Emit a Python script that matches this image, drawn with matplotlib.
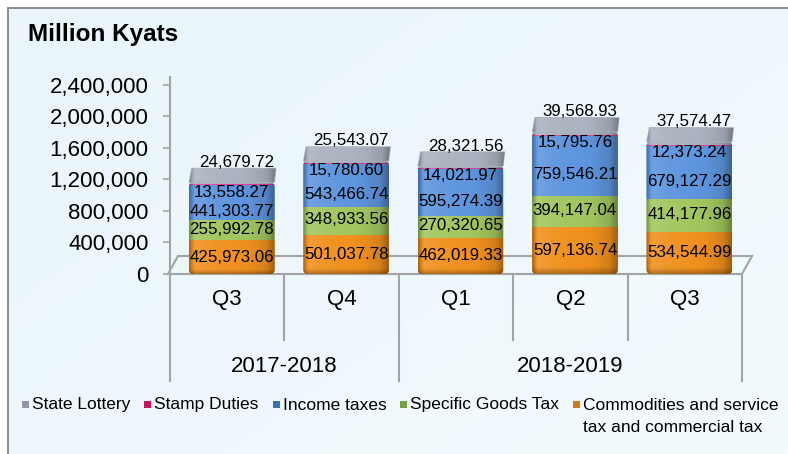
import numpy as np
import matplotlib
matplotlib.use("Agg")
import matplotlib.pyplot as plt
import matplotlib.transforms as mtransforms
from matplotlib.patches import Rectangle, Polygon, FancyBboxPatch
from matplotlib.ticker import FuncFormatter

# ---- data -------------------------------------------------------------
quarters = ["Q3", "Q4", "Q1", "Q2", "Q3"]
fiscal_years = ["2017-2018", "2018-2019"]
year_spans = [(0, 1), (2, 4)]          # first/last quarter index of each fiscal year

commodities = [425973.06, 501037.78, 462019.33, 597136.74, 534544.99]
specific_goods = [255992.78, 348933.56, 270320.65, 394147.04, 414177.96]
income_taxes = [441303.77, 543466.74, 595274.39, 759546.21, 679127.29]
stamp_duties = [13558.27, 15780.60, 14021.97, 15795.76, 12373.24]
state_lottery = [24679.72, 25543.07, 28321.56, 39568.93, 37574.47]

legend_labels = ["State Lottery", "Stamp Duties", "Income taxes",
                 "Specific Goods Tax", "Commodities and service\ntax and commercial tax"]

y_ticks = [0, 400000, 800000, 1200000, 1600000, 2000000, 2400000]
y_top = 2500000

# ---- styling ----------------------------------------------------------
W, H, DPI = 788, 454, 100
plt.rcParams["font.family"] = ["Liberation Sans", "DejaVu Sans"]
GRID = "#a3a3a3"

face = {"com": "#f0901e", "spe": "#a2c65e", "inc": "#5e95de",
        "stm": "#e2409e", "lot": "#a9b1bf"}
icon = {"lot": "#8e98aa", "stm": "#c8145e", "inc": "#3a6cb8",
        "spe": "#76a040", "com": "#d07818"}

fig = plt.figure(figsize=(W / DPI, H / DPI), dpi=DPI)
fig.patch.set_facecolor("white")

# background panel (pixel coordinates)
bg = fig.add_axes([0, 0, 1, 1], zorder=0)
bg.set_xlim(0, W)
bg.set_ylim(H, 0)
bg.axis("off")
gx, gy = np.meshgrid(np.linspace(0, 1, 200), np.linspace(0, 1, 120))
g = np.clip(0.55 * gx + 0.45 * gy, 0, 1)
c0 = np.array([233, 245, 250]) / 255
c1 = np.array([243, 251, 254]) / 255
grad = c0[None, None, :] * (1 - g[..., None]) + c1[None, None, :] * g[..., None]
bg.imshow(grad, extent=(8, W, H, 8), aspect="auto", interpolation="bilinear", zorder=0)
bg.plot([8, 8, W], [H, 8, 8], color="#8c8c8c", lw=1.4, zorder=1, solid_joinstyle="miter")

bg.text(28, 41, "Million Kyats", fontsize=17.5, fontweight="bold", ha="left",
        va="baseline", color="black")

# ---- main axes --------------------------------------------------------
ax_l, ax_r, ax_b, ax_t = 170, 742, 274, 77
ax = fig.add_axes([ax_l / W, 1 - ax_b / H, (ax_r - ax_l) / W, (ax_b - ax_t) / H], zorder=2)
ax.patch.set_visible(False)
n = len(quarters)
ax.set_xlim(-0.5, n - 0.5)
ax.set_ylim(0, y_top)
ax.set_autoscale_on(False)
for s in ["top", "right", "bottom"]:
    ax.spines[s].set_visible(False)
ax.spines["left"].set_color(GRID)
ax.spines["left"].set_linewidth(1.5)
ax.set_xticks([])
ax.set_yticks(y_ticks)
ax.yaxis.set_major_formatter(FuncFormatter(lambda v, p: f"{v:,.0f}"))
ax.tick_params(axis="y", direction="out", length=5, width=1.2, color=GRID,
               pad=10.5, labelsize=16)

xa = mtransforms.blended_transform_factory(ax.transData, ax.transAxes)
ax_h_px = ax_b - ax_t
ax_w_px = ax_r - ax_l
y_per_px = y_top / ax_h_px
x_per_px = n / ax_w_px
aspect = y_per_px / x_per_px

# floor in oblique projection (data coordinates, depth expressed in pixels)
depth_dx, depth_dy = 10 * x_per_px, 18 * y_per_px
fl, fr = -0.5 - 2 * x_per_px, n - 0.5
floor = Polygon([(fl, 0), (fr, 0), (fr + depth_dx, depth_dy), (fl + depth_dx, depth_dy)],
                closed=True, fill=False, edgecolor=GRID, lw=1.5, clip_on=False, zorder=1)
ax.add_patch(floor)

# category separators below the floor
bottom_long = -(381 - ax_b) / ax_h_px
bottom_short = -(340 - ax_b) / ax_h_px
group_edges = {year_spans[0][0] - 0.5} | {e + 0.5 for _, e in year_spans}
for b in np.arange(-0.5, n, 1.0):
    yb = bottom_long if b in group_edges else bottom_short
    ax.plot([b, b], [0, yb], transform=xa, color=GRID, lw=1.5, clip_on=False, zorder=1)

for i, q in enumerate(quarters):
    ax.text(i, -(300 - ax_b) / ax_h_px, q, transform=xa, ha="center",
            va="center", fontsize=16)
for (s, e), fy in zip(year_spans, fiscal_years):
    ax.text((s + e) / 2, -(366 - ax_b) / ax_h_px, fy, transform=xa,
            ha="center", va="center", fontsize=16)

# ---- stacked bars -----------------------------------------------------
x = np.arange(n)
bar_x = x + 0.04
bar_w = 0.75
layers = [(commodities, "com"), (specific_goods, "spe"), (income_taxes, "inc"),
          (stamp_duties, "stm"), (state_lottery, "lot")]

bottoms = {}
base = np.zeros(n)
bar_groups = []
for vals, key in layers:
    bc = ax.bar(bar_x, vals, bar_w, bottom=base, color=face[key], linewidth=0, zorder=3)
    bottoms[key] = base.copy()
    bar_groups.append(bc)
    base = base + np.array(vals)
totals = base

# horizontal bevel shading: dark rims, light strip near the left edge
t = np.linspace(0, 1, 120)
f = np.interp(t, [0, 0.07, 0.25, 0.7, 0.9, 1.0], [-0.30, 0.12, 0.05, -0.02, -0.12, -0.35])
shade = np.zeros((1, t.size, 4))
shade[..., :3] = (f > 0)[..., None].astype(float)
shade[..., 3] = np.abs(f)

# vertical shading for the bottom rim of the column
tv = np.linspace(0, 1, 60)
fv = np.interp(tv, [0, 0.04, 1.0], [0.25, 0.0, 0.0])
vshade = np.zeros((tv.size, 1, 4))
vshade[..., 3] = fv[::-1, None]

top_dx, top_dy = 2 * x_per_px, 14 * y_per_px
for i in range(n):
    x0 = bar_x[i] - bar_w / 2
    x1 = x0 + bar_w
    clip = FancyBboxPatch((x0, 0), bar_w, totals[i],
                          boxstyle="round,pad=0,rounding_size=0.04",
                          mutation_aspect=aspect, transform=ax.transData)
    for bc in bar_groups:
        bc.patches[i].set_clip_path(clip)
    im = ax.imshow(shade, extent=(x0, x1, 0, totals[i]), aspect="auto",
                   interpolation="bilinear", zorder=4)
    im.set_clip_path(clip)
    im2 = ax.imshow(vshade, extent=(x0, x1, 0, min(totals[i], 60 * 4 * y_per_px)),
                    aspect="auto", interpolation="bilinear", zorder=4)
    im2.set_clip_path(clip)

    # top face of the column
    yb0 = totals[i]
    top = Polygon([(x0 + 0.5 * x_per_px, yb0), (x1 - 0.5 * x_per_px, yb0),
                   (x1 + top_dx - 1 * x_per_px, totals[i] + top_dy),
                   (x0 + top_dx + 1 * x_per_px, totals[i] + top_dy)],
                  closed=True, facecolor="#abb3c0", edgecolor="#abb3c0", lw=1.0,
                  joinstyle="round", zorder=5)
    ax.add_patch(top)
    im3 = ax.imshow(shade, extent=(x0, x1 + top_dx, yb0, totals[i] + top_dy),
                    aspect="auto", interpolation="bilinear", zorder=5)
    im3.set_clip_path(top)

ax.set_xlim(-0.5, n - 0.5)
ax.set_ylim(0, y_top)

# ---- value labels -----------------------------------------------------
PT = 72 / DPI
lab_fs = 12.2


def put(txt, xv, yv, dx_px=0, dy_px=0):
    ax.annotate(txt, (xv, yv), xytext=(dx_px * PT, dy_px * PT), textcoords="offset points",
                ha="center", va="center", fontsize=lab_fs, zorder=7, annotation_clip=False)


for i in range(n):
    put(f"{commodities[i]:,.2f}", bar_x[i], bottoms["com"][i] + commodities[i] / 2)
    put(f"{specific_goods[i]:,.2f}", bar_x[i], bottoms["spe"][i] + specific_goods[i] / 2, dy_px=1)
    put(f"{income_taxes[i]:,.2f}", bar_x[i], bottoms["inc"][i] + income_taxes[i] / 2, dy_px=-9)
    put(f"{stamp_duties[i]:,.2f}", bar_x[i], bottoms["stm"][i] + stamp_duties[i], dy_px=-7.6)
    put(f"{state_lottery[i]:,.2f}", bar_x[i], totals[i], dx_px=5, dy_px=20)

# ---- legend -----------------------------------------------------------
leg_keys = ["lot", "stm", "inc", "spe", "com"]
renderer = fig.canvas.get_renderer()
lx = 22
ly = 405
for key, lab in zip(leg_keys, legend_labels):
    bg.add_patch(Rectangle((lx, ly - 4), 7, 7, facecolor=icon[key],
                           edgecolor="none", zorder=3))
    lines = lab.split("\n")
    tx = lx + 10
    widest = 0
    for k, line in enumerate(lines):
        tt = bg.text(tx, ly + 22 * k, line, fontsize=12.5, ha="left", va="center", zorder=3)
        widest = max(widest, tt.get_window_extent(renderer).width)
    lx = tx + widest + 14

fig.savefig("out.png", dpi=DPI, facecolor=fig.get_facecolor())
